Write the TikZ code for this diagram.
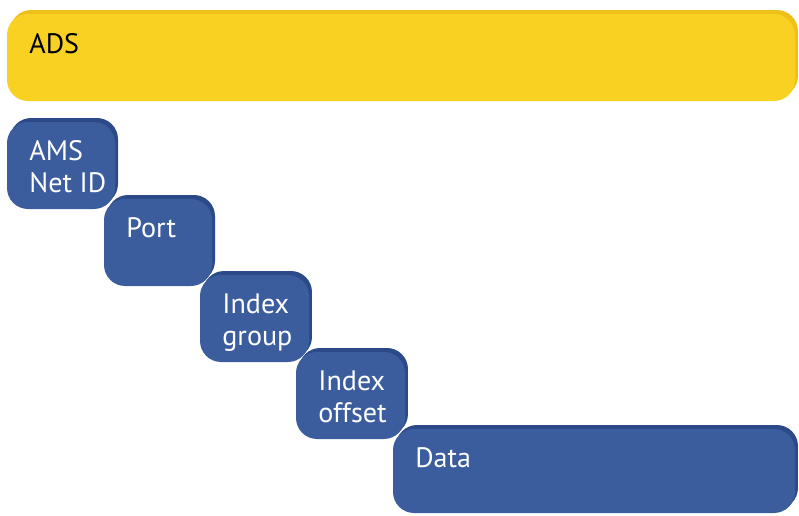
\documentclass[tikz,border=0pt]{standalone}
\usepackage{fontspec}
\setmainfont{PT Sans}
\usetikzlibrary{positioning}
\definecolor{AdsYellow}{HTML}{F8D123}
\definecolor{AdsYellowEdge}{HTML}{EEC01A}
\definecolor{AdsBlue}{HTML}{3B5D9E}
\definecolor{AdsBlueEdge}{HTML}{2C4A88}

\tikzset{
  layerlabel/.style={anchor=north west, inner sep=0pt, align=left,
    font=\fontsize{16}{18.2}\selectfont},
  bluelabel/.style={layerlabel, text=white},
}

\begin{document}
\begin{tikzpicture}[x=0.02cm, y=-0.02cm]
    % =========================================
    % 1. canvas (pixel grid 799 x 515)
    % =========================================
    \useasboundingbox (0,0) rectangle (799,515);

    % =========================================
    % 2. ADS layer (yellow bar)
    % =========================================
    \shade[rounded corners=12, left color=AdsYellowEdge, middle color=AdsYellow!35!white,
      right color=AdsYellowEdge] (10,10) rectangle (798,97);
    \fill[AdsYellow, rounded corners=12] (7,14) rectangle (795,101);
    \node[layerlabel] (ads) at (29,33) {ADS};

    % =========================================
    % 3. blue layers, stepping down to the right
    % =========================================
    \foreach \x/\y/\w/\h in {7/122/108/87, 104/199/108/87, 200/275/109/87,
                             296/352/109/87, 393/429/402/84} {
        % back slab: light top edge, dark right edge
        \shade[rounded corners=12, left color=AdsBlueEdge, middle color=AdsBlue!40!white,
          right color=AdsBlueEdge] (\x+3,\y-4) rectangle ++(\w,\h);
        % front face
        \fill[AdsBlue, rounded corners=12] (\x,\y) rectangle ++(\w,\h);
    }

    \node[bluelabel] (netid)   at (29,140)  {AMS\\Net ID};
    \node[bluelabel] (port)    at (126,217) {Port};
    \node[bluelabel] (igroup)  at (222,293) {Index\\group};
    \node[bluelabel] (ioffset) at (318,370) {Index\\offset};
    \node[bluelabel] (data)    at (415,447) {Data};

\end{tikzpicture}
\end{document}
